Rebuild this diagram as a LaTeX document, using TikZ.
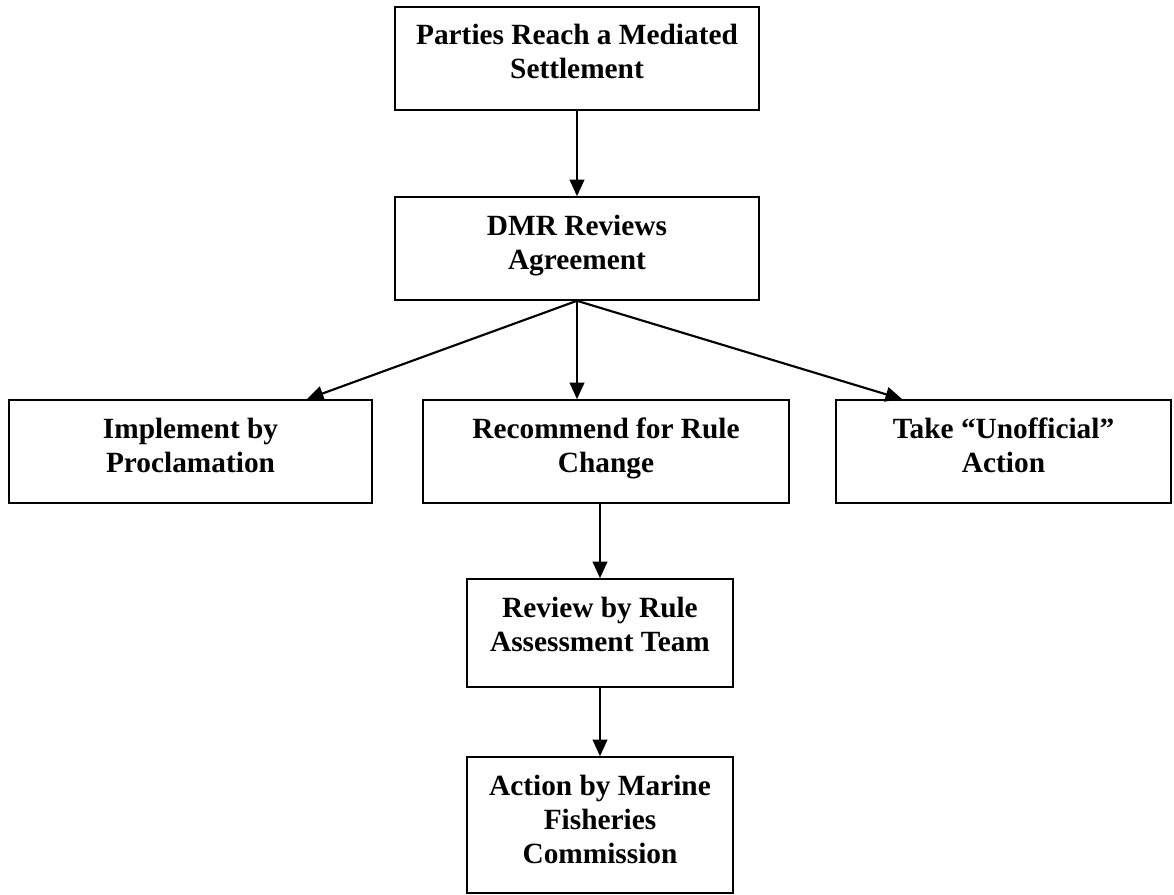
\documentclass[tikz,border=0pt]{standalone}
\usepackage{fontspec}
\setmainfont{Liberation Serif}
\usepackage{tikz}
\usetikzlibrary{arrows.meta}
\usetikzlibrary{positioning}
\usetikzlibrary{calc}

% text block of a box: fixed size, first baseline at a fixed depth
\newcommand{\flowlabel}[3]{\parbox[c][#2][t]{#1}{\centering\rule{0pt}{28.5pt}#3}}

\tikzset{
  flowbox/.style={draw,line width=1.2pt,inner sep=0pt,font=\fontsize{22}{25.5}\selectfont\bfseries},
  flowarrow/.style={line width=1.6pt,-{Triangle[length=12.5pt,width=11pt]}}
}

\begin{document}
\begin{tikzpicture}[x=0.75pt,y=-0.75pt]
	\useasboundingbox (0,0) rectangle (1174,895);
	\node[flowbox](parties) at (577,58.5){\flowlabel{273pt}{77.25pt}{Parties Reach a Mediated\\Settlement}};
	\node[flowbox](dmr) at (577,248.5){\flowlabel{273pt}{77.25pt}{DMR Reviews\\Agreement}};
	\node[flowbox](impl) at (190.5,451.5){\flowlabel{272.25pt}{77.25pt}{Implement by\\Proclamation}};
	\node[flowbox](rec) at (606,451.5){\flowlabel{274.5pt}{77.25pt}{Recommend for Rule\\Change}};
	\node[flowbox](take) at (1003.5,451.5){\flowlabel{251.25pt}{77.25pt}{Take “Unofficial”\\Action}};
	\node[flowbox](rev) at (600,633){\flowlabel{199.5pt}{81pt}{Review by Rule\\Assessment Team}};
	\node[flowbox](act) at (600,825){\flowlabel{199.5pt}{102pt}{Action by Marine\\Fisheries\\Commission}};
	% connectors
	\draw[flowarrow] (parties) -- (dmr);
	\draw[flowarrow] (dmr.south) -- ($(impl.north east)+(-66,0)$);
	\draw[flowarrow] (dmr.south) -- (dmr.south |- rec.north);
	\draw[flowarrow] (dmr.south) -- ($(take.north west)+(67,0)$);
	\draw[flowarrow] (rec.south -| rev.north) -- (rev.north);
	\draw[flowarrow] (rev) -- (act);
\end{tikzpicture}
\end{document}
